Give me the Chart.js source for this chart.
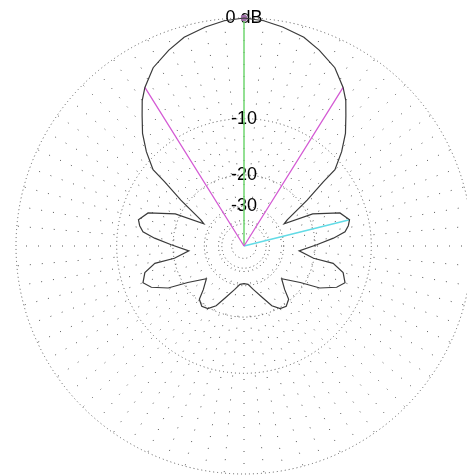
<!DOCTYPE html>
<html>
<head>
<meta charset="utf-8">
<script src="https://cdn.jsdelivr.net/npm/chart.js@4.4.0/dist/chart.umd.min.js"></script>
<style>
  html, body { margin: 0; padding: 0; background: #fff; overflow: hidden; }
  #wrap { position: absolute; left: 0; top: 0; width: 488px; height: 490px; }
</style>
</head>
<body>
<div id="wrap"><canvas id="chart"></canvas></div>
<script>
// azimuth pattern, degrees clockwise from top, gain in dB relative to max
const azimuth = [0, 5, 10, 16, 21, 27, 32, 35, 38, 42, 46, 50, 51, 54, 59, 61, 65, 71, 76, 79, 82, 85, 89, 95,
  100, 101, 105, 110, 114, 119, 123, 131, 137, 140, 145, 150, 155, 160, 168, 174, 180,
  186, 192, 200, 205, 210, 215, 220, 223, 229, 237, 241, 246, 250, 255, 259, 260, 265, 271, 275,
  278, 281, 284, 289, 295, 299, 301, 306, 309, 310, 314, 318, 322, 325, 328, 333, 339, 344, 350, 355];
const gainDb = [0, -0.14, -0.43, -0.83, -1.43, -2.24, -3.4, -4.3, -5.5, -7.0, -8.9, -11.2, -13.8, -18.4, -26.0, -27.5, -18.9, -13.9, -12.7, -13.1, -13.8, -16.0, -19.6, -24.3,
  -20.1, -15.8, -13.7, -12.9, -13.9, -16.6, -21.0, -26.1, -23.0, -20.4, -19.4, -19.7, -21.3, -24.3, -28.1, -30.5, -30.9,
  -30.5, -28.1, -24.3, -21.3, -19.7, -19.4, -20.4, -23.0, -26.1, -21.0, -16.6, -13.9, -12.9, -13.7, -15.8, -20.1, -24.3, -19.6, -16.0,
  -13.8, -13.1, -12.7, -13.9, -18.9, -27.5, -26.0, -18.4, -13.8, -11.2, -8.9, -7.0, -5.5, -4.3, -3.4, -2.24, -1.43, -0.83, -0.43, -0.14];

const ringDb = [-50, -40, -30, -20, -10, 0];
const ringLabels = ['', '', '-30', '-20', '-10', '0 dB'];

const maxGainAz = [0];
const maxGainDb = 0;
const beamEdgeAz = [32, 328];
const beamEdgeDb = -3.4;
const sideLobeAz = [76];
const sideLobeDb = -12.7;

// ARRL log scale: radius x0.89 for every 2 dB down
const arrl = db => Math.pow(0.89, -db / 2);

const degrees = Array.from({ length: 360 }, (_, i) => String(i));

const patternData = degrees.map(() => null);
azimuth.forEach((a, i) => { patternData[a] = arrl(gainDb[i]); });

// a line from the centre out to a given direction
function rays(azs, db) {
    const d = degrees.map(() => null);
    azs.forEach(a => { d[a] = arrl(db); d[(a + 1) % 360] = 0; });
    return d;
}

// dotted spoke that starts some way out from the centre
function spokeDash(start) {
    const d = [0, start];
    for (let i = 0; i < 25; i++) d.push(1, 11);
    return d;
}

new Chart(document.getElementById('chart'), {
    type: 'radar',
    data: {
        labels: degrees,
        datasets: [
            {
                data: patternData,
                borderColor: '#3a3a3a',
                borderWidth: 1.2,
                pointRadius: 0,
                spanGaps: true,
                fill: false
            },
            {
                data: rays(beamEdgeAz, beamEdgeDb),
                borderColor: '#d45bd4',
                borderWidth: 1.3,
                pointRadius: 0,
                fill: false
            },
            {
                data: rays(sideLobeAz, sideLobeDb),
                borderColor: '#62dbe6',
                borderWidth: 1.5,
                pointRadius: 0,
                fill: false
            },
            {
                data: rays(maxGainAz, maxGainDb),
                borderColor: '#6fd66f',
                borderWidth: 1.5,
                pointRadius: ctx => ctx.dataIndex === 0 ? 2.5 : 0,
                pointBackgroundColor: '#a070a8',
                pointBorderColor: '#a070a8',
                fill: false
            }
        ]
    },
    options: {
        animation: false,
        responsive: true,
        maintainAspectRatio: false,
        layout: { padding: { left: 0, right: 0, top: 7, bottom: 5 } },
        plugins: { legend: { display: false }, tooltip: { enabled: false } },
        scales: {
            r: {
                min: 0,
                max: 1,
                afterBuildTicks: s => {
                    s.ticks = [0].concat(ringDb.map(arrl)).map(v => ({ value: v }));
                },
                ticks: {
                    callback: (v, i) => i === 0 ? '' : ringLabels[i - 1],
                    showLabelBackdrop: false,
                    color: '#000',
                    font: { family: 'Liberation Sans, Arial', size: 18 }
                },
                grid: { circular: true, color: '#555' },
                border: { dash: [1, 3] },
                angleLines: {
                    color: '#555',
                    lineWidth: ctx => ctx.index % 5 ? 0 : 1,
                    borderDash: ctx => spokeDash(ctx.index % 10 ? 70 : 25)
                },
                pointLabels: { display: false }
            }
        }
    }
});
</script>
</body>
</html>
